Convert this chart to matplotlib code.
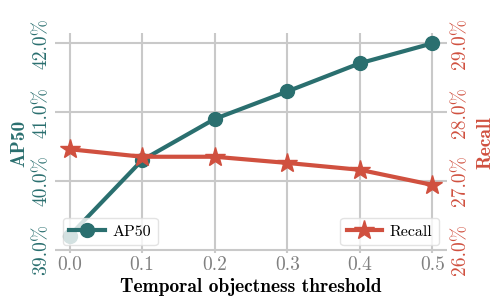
import matplotlib
matplotlib.use("Agg")
import matplotlib.pyplot as plt
from matplotlib.ticker import FuncFormatter

# Data
thresholds = [0.0, 0.1, 0.2, 0.3, 0.4, 0.5]
ap50 = [39.2, 40.3, 40.9, 41.3, 41.71, 42.0]
recall = [27.46, 27.35, 27.35, 27.26, 27.16, 26.94]

TEAL = '#2a6f6f'
RED = '#d0503f'
GRID = '#c9c9c9'

plt.rcParams['font.family'] = 'serif'
plt.rcParams['font.serif'] = ['cmr10']
plt.rcParams['axes.unicode_minus'] = False
plt.rcParams['mathtext.fontset'] = 'cm'

fig = plt.figure(figsize=(4.99, 3.02), dpi=100)
ax = fig.add_axes([55 / 499, 1 - 253 / 302, 392 / 499, 220 / 302])
ax2 = ax.twinx()

ax.plot(thresholds, ap50, '-o', color=TEAL, lw=3, ms=10, label='AP50', zorder=3)
ax2.plot(thresholds, recall, '-*', color=RED, lw=3, ms=15, label='Recall', zorder=3)

ax.set_xlim(-0.02, 0.52)
ax.set_ylim(38.95, 42.15)
ax2.set_ylim(25.95, 29.15)
ax.set_xticks(thresholds)
ax.set_yticks([39, 40, 41, 42])
ax2.set_yticks([26, 27, 28, 29])

pct = FuncFormatter(lambda v, p: f"{v:.1f}%")
ax.yaxis.set_major_formatter(pct)
ax2.yaxis.set_major_formatter(pct)
ax.xaxis.set_major_formatter(FuncFormatter(lambda v, p: f"{v:.1f}"))

ax.grid(True, color=GRID, lw=1.5)
ax.set_axisbelow(True)
for a in (ax, ax2):
    for s in a.spines.values():
        s.set_visible(False)
    a.tick_params(length=0)

ax.tick_params(axis='x', labelsize=14, labelcolor='#808080', pad=2)
ax.tick_params(axis='y', labelsize=14, labelcolor=TEAL, pad=3)
ax2.tick_params(axis='y', labelsize=14, labelcolor=RED, pad=3)
for t in ax.get_yticklabels():
    t.set_rotation(90)
    t.set_va('center')
for t in ax2.get_yticklabels():
    t.set_rotation(90)
    t.set_va('center')

ax.set_xlabel('Temporal objectness threshold', fontsize=14, family='cmb10', labelpad=3)
ax.set_ylabel('AP50', fontsize=14, family='cmb10', color=TEAL, labelpad=3)
ax2.set_ylabel('Recall', fontsize=14, family='cmb10', color=RED, labelpad=5)

leg1 = ax.legend(loc='lower left', fontsize=11.5, framealpha=0.8, edgecolor='#dddddd',
                 handlelength=2.2, handletextpad=0.5, borderpad=0.4)
leg1.set_zorder(5)
ax2.legend(loc='lower right', fontsize=11.5, framealpha=0.8, edgecolor='#dddddd',
           handlelength=2.2, handletextpad=0.5, borderpad=0.4)

fig.savefig('out.png', dpi=100)
